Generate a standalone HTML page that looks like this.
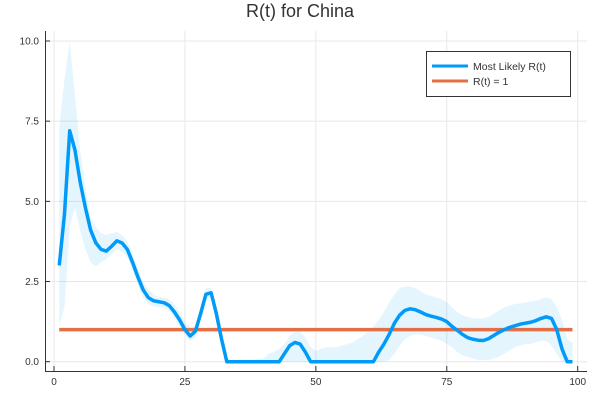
<!DOCTYPE html>
<html><head><meta charset="utf-8"><style>
body{margin:0;background:#fff;width:600px;height:400px;overflow:hidden}
svg{font-family:"Liberation Sans",sans-serif}
</style></head><body>
<svg id="chart" width="600" height="400">
<text x="300" y="17" text-anchor="middle" font-size="18" fill="#333">R(t) for China</text>
<g id="grid"></g><g id="band"></g><g id="lines"></g><g id="axes"></g>
<g>
<rect x="426.5" y="51.5" width="144" height="45" fill="#fff" stroke="#333" stroke-width="1"/>
<line x1="432" y1="66" x2="468" y2="66" stroke="#009af9" stroke-width="3"/>
<text x="473" y="70" font-size="10.5" fill="#333">Most Likely R(t)</text>
<line x1="432" y1="81" x2="468" y2="81" stroke="#e26f46" stroke-width="3"/>
<text x="473" y="85" font-size="10.5" fill="#333">R(t) = 1</text>
</g>
</svg>
<script>
const days = Array.from({length:99},(_,i)=>i+1);
const mean = [3.0,4.6,7.2,6.6,5.6,4.8,4.1,3.7,3.5,3.45,3.6,3.77,3.7,3.5,3.1,2.65,2.25,2.0,1.9,1.87,1.84,1.75,1.55,1.3,1.0,0.8,0.95,1.5,2.1,2.15,1.5,0.7,0,0,0,0,0,0,0,0,0,0,0,0.25,0.5,0.6,0.55,0.3,0,0,0,0,0,0,0,0,0,0,0,0,0,0.3,0.55,0.85,1.2,1.45,1.6,1.65,1.62,1.55,1.47,1.42,1.38,1.33,1.25,1.1,0.98,0.85,0.75,0.7,0.67,0.66,0.72,0.82,0.92,1.0,1.07,1.12,1.17,1.2,1.23,1.28,1.35,1.4,1.35,1.0,0.4,0,0];
const upper = [7.3,8.8,10.0,8.3,6.6,5.45,4.5,4.2,4.0,3.95,4.0,4.05,3.95,3.75,3.35,2.9,2.5,2.25,2.1,2.02,2.0,1.95,1.8,1.55,1.25,1.05,1.1,1.7,2.3,2.3,1.7,0.9,0.1,0.05,0.05,0.05,0.05,0.05,0.1,0.1,0.25,0.3,0.4,0.55,0.8,0.95,0.95,0.75,0.45,0.35,0.4,0.45,0.45,0.45,0.5,0.55,0.6,0.7,0.8,0.95,1.1,1.3,1.55,1.85,2.1,2.3,2.35,2.35,2.3,2.2,2.1,2.05,2.0,1.95,1.85,1.7,1.55,1.45,1.4,1.35,1.35,1.35,1.4,1.5,1.6,1.7,1.75,1.8,1.82,1.85,1.88,1.9,1.95,2.0,1.95,1.7,1.3,0.7,0.6];
const lower = [1.1,1.7,4.2,4.8,4.1,3.5,3.1,2.97,3.1,3.2,3.35,3.5,3.45,3.25,2.85,2.4,2.0,1.8,1.72,1.7,1.68,1.58,1.35,1.1,0.85,0.65,0.75,1.3,1.9,2.0,1.3,0.5,0,0,0,0,0,0,0,0,0,0,0,0,0,0,0,0,0,0,0,0,0,0,0,0,0,0,0,0,0,0,0,0.05,0.25,0.5,0.7,0.8,0.85,0.85,0.8,0.75,0.7,0.65,0.55,0.45,0.3,0.2,0.15,0.1,0.05,0.05,0.05,0.1,0.15,0.25,0.35,0.45,0.5,0.55,0.55,0.6,0.65,0.65,0.5,0.25,0,0,0];
const threshold = [1,1];
const xTicks = [0,25,50,75,100];
const yTicks = [0,2.5,5,7.5,10];
const yTickLabels = ["0.0","2.5","5.0","7.5","10.0"];

const sx = v => 54 + 5.237*v;
const sy = v => 361.7 - 32.07*v;
const NS="http://www.w3.org/2000/svg";
function mk(tag, parent, attrs){const e=document.createElementNS(NS,tag);for(const k in attrs)e.setAttribute(k,attrs[k]);document.getElementById(parent).appendChild(e);return e;}

xTicks.forEach(t=>{
  const g=mk('line','grid',{x1:sx(t),x2:sx(t),y1:31,y2:371,stroke:'#e8e8e8','stroke-width':1});
  
  
  const tk=mk('line','axes',{x1:sx(t),x2:sx(t),y1:371,y2:366,stroke:'#333'});
  
  
  const tl=mk('text','axes',{x:sx(t),y:385,'text-anchor':'middle','font-size':10,fill:'#333'});
  tl.textContent=t;
  
  
});
yTicks.forEach((t,i)=>{
  const g=mk('line','grid',{x1:45,x2:587,y1:sy(t),y2:sy(t),stroke:'#e8e8e8','stroke-width':1});
  
  
  const tk=mk('line','axes',{x1:45,x2:50,y1:sy(t),y2:sy(t),stroke:'#333'});
  
  
  const tl=mk('text','axes',{x:39,y:sy(t)+3.5,'text-anchor':'end','font-size':10,fill:'#333'});
  tl.textContent=yTickLabels[i];
  
  
});
const ax=mk('path','axes',{d:'M45.5 31V371.5H587',fill:'none',stroke:'#333','stroke-width':1});



let bd='M'+days.map((d,i)=>sx(d)+' '+sy(upper[i])).join('L');
for(let i=days.length-1;i>=0;i--) bd+='L'+sx(days[i])+' '+sy(lower[i]);
const band=mk('path','band',{d:bd+'Z',fill:'#009af9','fill-opacity':0.1});



const th=mk('line','lines',{x1:sx(days[0]),x2:sx(days[days.length-1]),y1:sy(threshold[0]),y2:sy(threshold[1]),stroke:'#e26f46','stroke-width':3.5});


const ml=mk('path','lines',{d:'M'+days.map((d,i)=>sx(d)+' '+sy(mean[i])).join('L'),fill:'none',stroke:'#009af9','stroke-width':3.5,'stroke-linejoin':'round'});


</script>
</body></html>
